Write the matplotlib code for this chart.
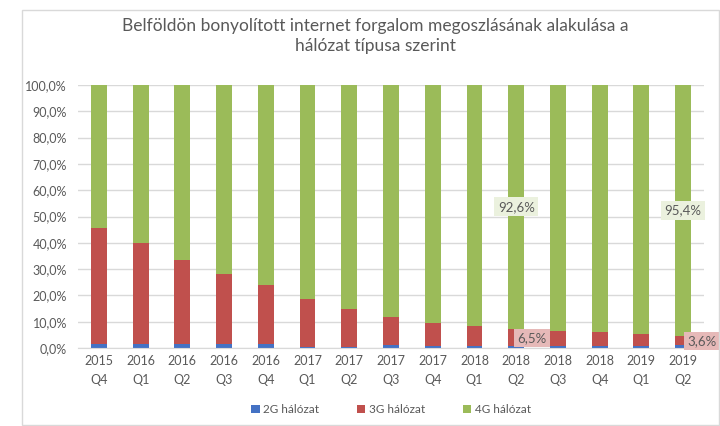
import numpy as np
import matplotlib.pyplot as plt
from matplotlib.patches import Rectangle

plt.rcParams['font.family'] = ['Lato', 'DejaVu Sans']

quarters = ['2015\nQ4', '2016\nQ1', '2016\nQ2', '2016\nQ3', '2016\nQ4',
            '2017\nQ1', '2017\nQ2', '2017\nQ3', '2017\nQ4', '2018\nQ1',
            '2018\nQ2', '2018\nQ3', '2018\nQ4', '2019\nQ1', '2019\nQ2']
g2 = [1.7, 1.7, 1.7, 1.7, 1.4, 0.4, 0.4, 1.3, 0.9, 0.8, 0.9, 0.9, 0.8, 0.8, 1.0]
g3 = [43.8, 38.2, 31.9, 26.3, 22.6, 18.2, 14.3, 10.6, 8.7, 7.6, 6.5, 5.6, 5.2, 4.6, 3.6]
g4 = [100 - a - b for a, b in zip(g2, g3)]
g4[10] = 92.6
g4[14] = 95.4

c2 = '#4472C4'
c3 = '#C0504D'
c4 = '#9BBB59'
txt = '#595959'

fig = plt.figure(figsize=(7.2, 4.26), dpi=100)
# outer chart frame
fig.patches.append(Rectangle((22/720, 1/426), 697/720, 415/426, transform=fig.transFigure,
                             fill=False, edgecolor='#D9D9D9', linewidth=1))
ax = fig.add_axes([78/720, 1 - 348/426, 626/720, 263/426])

x = np.arange(len(quarters))
w = 0.38
ax.bar(x, g2, w, color=c2, label='2G hálózat')
ax.bar(x, g3, w, bottom=g2, color=c3, label='3G hálózat')
bot = [a + b for a, b in zip(g2, g3)]
ax.bar(x, g4, w, bottom=bot, color=c4, label='4G hálózat')

ax.set_xlim(-0.5, len(quarters) - 0.5)
ax.set_ylim(0, 100)
ax.set_yticks(np.arange(0, 101, 10))
ax.set_yticklabels([f'{v},0%' for v in range(0, 101, 10)])
ax.set_xticks(x)
ax.set_xticklabels(quarters, linespacing=1.75)
ax.tick_params(axis='both', length=0, labelsize=9, colors=txt, pad=5)
ax.tick_params(axis='y', pad=8)
ax.grid(axis='y', color='#D9D9D9', linewidth=1)
ax.set_axisbelow(True)
for s in ['top', 'right', 'left']:
    ax.spines[s].set_visible(False)
ax.spines['bottom'].set_color('#D9D9D9')

# data labels
ax.text(x[10], bot[10] + g4[10] / 2, '92,6%', ha='center', va='center', fontsize=9.5, color=txt,
        bbox=dict(boxstyle='square,pad=0.25', facecolor='#EBF1DE', edgecolor='none'))
ax.text(x[14], bot[14] + g4[14] / 2, '95,4%', ha='center', va='center', fontsize=9.5, color=txt,
        bbox=dict(boxstyle='square,pad=0.25', facecolor='#EBF1DE', edgecolor='none'))
ax.text(x[10] + 0.38, 3.8, '6,5%', ha='center', va='center', fontsize=9.5, color=txt,
        bbox=dict(boxstyle='square,pad=0.25', facecolor='#E6B9B8', edgecolor='none'))
ax.text(x[14] + 0.45, 2.6, '3,6%', ha='center', va='center', fontsize=9.5, color=txt,
        bbox=dict(boxstyle='square,pad=0.25', facecolor='#E6B9B8', edgecolor='none'), clip_on=False)

fig.text(375/720, 1 - 36/426, 'Belföldön bonyolított internet forgalom megoszlásának alakulása a\nhálózat típusa szerint',
         ha='center', va='center', fontsize=12.5, color=txt, linespacing=1.3)

ax.legend(loc='center', bbox_to_anchor=(0.5, -0.235), ncol=3, frameon=False, fontsize=8.5,
          labelcolor=txt, handlelength=0.7, handleheight=0.7, columnspacing=3.2, handletextpad=0.3)

fig.savefig('out.png', dpi=100)
